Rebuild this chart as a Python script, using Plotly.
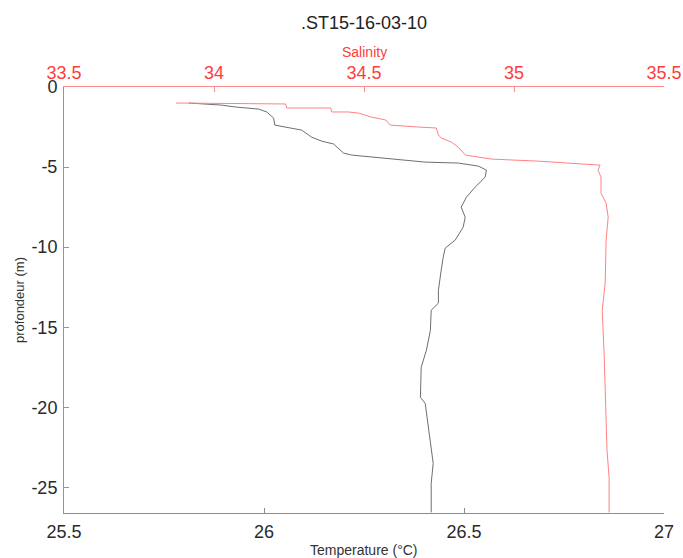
import plotly.graph_objects as go

title_text = ".ST15-16-03-10"

# Temperature profile (°C) vs depth (m)
temp_depth = [-1.0, -1.06, -1.13, -1.25, -1.38, -1.56, -1.94, -2.38, -2.56, -2.69, -3.13, -3.38,
              -3.56, -4.13, -4.25, -4.44, -4.69, -4.75, -4.94, -5.19, -5.63, -6.25, -6.88, -7.5,
              -8.13, -8.75, -9.56, -10.06, -10.63, -11.44, -12.69, -13.5, -13.94, -15.19, -16.44,
              -17.5, -19.38, -19.75, -21.25, -22.69, -23.5, -24.75, -26.56]
temperature = [25.812, 25.844, 25.894, 25.929, 25.987, 26.007, 26.024, 26.027, 26.062, 26.094,
               26.119, 26.144, 26.174, 26.199, 26.219, 26.304, 26.403, 26.486, 26.536, 26.556,
               26.553, 26.528, 26.506, 26.493, 26.503, 26.498, 26.478, 26.453, 26.448, 26.443,
               26.436, 26.436, 26.418, 26.416, 26.406, 26.393, 26.391, 26.403, 26.411, 26.418,
               26.423, 26.418, 26.418]

# Salinity profile vs depth (m)
sal_depth = [-1.0, -1.06, -1.31, -1.31, -1.56, -1.56, -1.63, -1.88, -2.06, -2.38, -2.5, -2.56,
             -3.0, -3.19, -3.44, -3.75, -4.25, -4.5, -4.63, -4.81, -4.88, -5.19, -5.63, -6.63,
             -7.25, -8.13, -9.56, -12.25, -13.94, -16.44, -18.5, -20.63, -22.69, -24.38, -26.56]
salinity = [33.873, 34.239, 34.242, 34.389, 34.392, 34.448, 34.482, 34.525, 34.572, 34.588,
            34.681, 34.741, 34.748, 34.758, 34.791, 34.814, 34.838, 34.924, 35.081, 35.224,
            35.287, 35.280, 35.290, 35.290, 35.307, 35.314, 35.307, 35.304, 35.294, 35.300,
            35.304, 35.307, 35.310, 35.317, 35.317]

temp_ticks = [25.5, 26, 26.5, 27]
temp_ticklabels = ["25.5", "26", "26.5", "27"]
sal_ticks = [33.5, 34, 34.5, 35, 35.5]
sal_ticklabels = ["33.5", "34", "34.5", "35", "35.5"]
depth_ticks = [0, -5, -10, -15, -20, -25]
depth_ticklabels = ["0", "-5", "-10", "-15", "-20", "-25"]

FONT = "Liberation Sans, Arial, sans-serif"
RED = "rgb(255,60,60)"

fig = go.Figure()
fig.add_trace(go.Scatter(x=temperature, y=temp_depth, mode="lines",
                         line=dict(color="rgb(110,110,110)", width=1), xaxis="x", yaxis="y",
                         showlegend=False))
fig.add_trace(go.Scatter(x=salinity, y=sal_depth, mode="lines",
                         line=dict(color="rgb(255,130,130)", width=1), xaxis="x2", yaxis="y",
                         showlegend=False))

fig.update_layout(
    width=683, height=558,
    margin=dict(l=64, r=19, t=87, b=45, autoexpand=False),
    paper_bgcolor="white", plot_bgcolor="white",
    font=dict(family=FONT, color="#333"),
    showlegend=False,
    xaxis=dict(range=[25.5, 27], tickvals=temp_ticks, ticktext=temp_ticklabels,
               showgrid=False, zeroline=False, showline=True, linecolor="rgb(140,140,140)",
               linewidth=1, ticks="inside", ticklen=5, tickcolor="rgb(140,140,140)",
               tickfont=dict(size=18, color="#2a2a2a"), ticklabelstandoff=2, automargin=False),
    xaxis2=dict(range=[33.5, 35.5], tickvals=sal_ticks, ticktext=sal_ticklabels,
                overlaying="x", side="top", anchor="y",
                showgrid=False, zeroline=False, showline=True, linecolor="rgb(255,140,140)",
                linewidth=1, ticks="inside", ticklen=5, tickcolor="rgb(255,140,140)",
                tickfont=dict(size=18, color=RED), ticklabelstandoff=0, automargin=False),
    yaxis=dict(range=[-26.6, 0], tickvals=depth_ticks, ticktext=depth_ticklabels,
               showgrid=False, zeroline=False, showline=True, linecolor="rgb(150,150,150)",
               linewidth=1, ticks="inside", ticklen=5, tickcolor="rgb(150,150,150)",
               tickfont=dict(size=18, color="#2a2a2a"), ticklabelstandoff=2, automargin=False),
    annotations=[
        dict(text=title_text, x=0.5, xref="paper", y=1, yref="paper", yshift=64,
             xanchor="center", yanchor="middle", showarrow=False,
             font=dict(size=18, color="#222")),
        dict(text="Salinity", x=0.5, xref="paper", y=1, yref="paper", yshift=35,
             xanchor="center", yanchor="middle", showarrow=False,
             font=dict(size=14, color=RED)),
        dict(text="Temperature (°C)", x=0.5, xref="paper", y=0, yref="paper", yshift=-37,
             xanchor="center", yanchor="middle", showarrow=False,
             font=dict(size=14, color="#333")),
        dict(text="profondeur (m)", x=0, xref="paper", xshift=-45, y=0.5, yref="paper",
             xanchor="center", yanchor="middle", textangle=-90, showarrow=False,
             font=dict(size=13, color="#333")),
    ],
)

fig.write_html("out.html", config={"displayModeBar": False},
               post_script="document.body.style.margin='0';document.body.style.padding='0';")
